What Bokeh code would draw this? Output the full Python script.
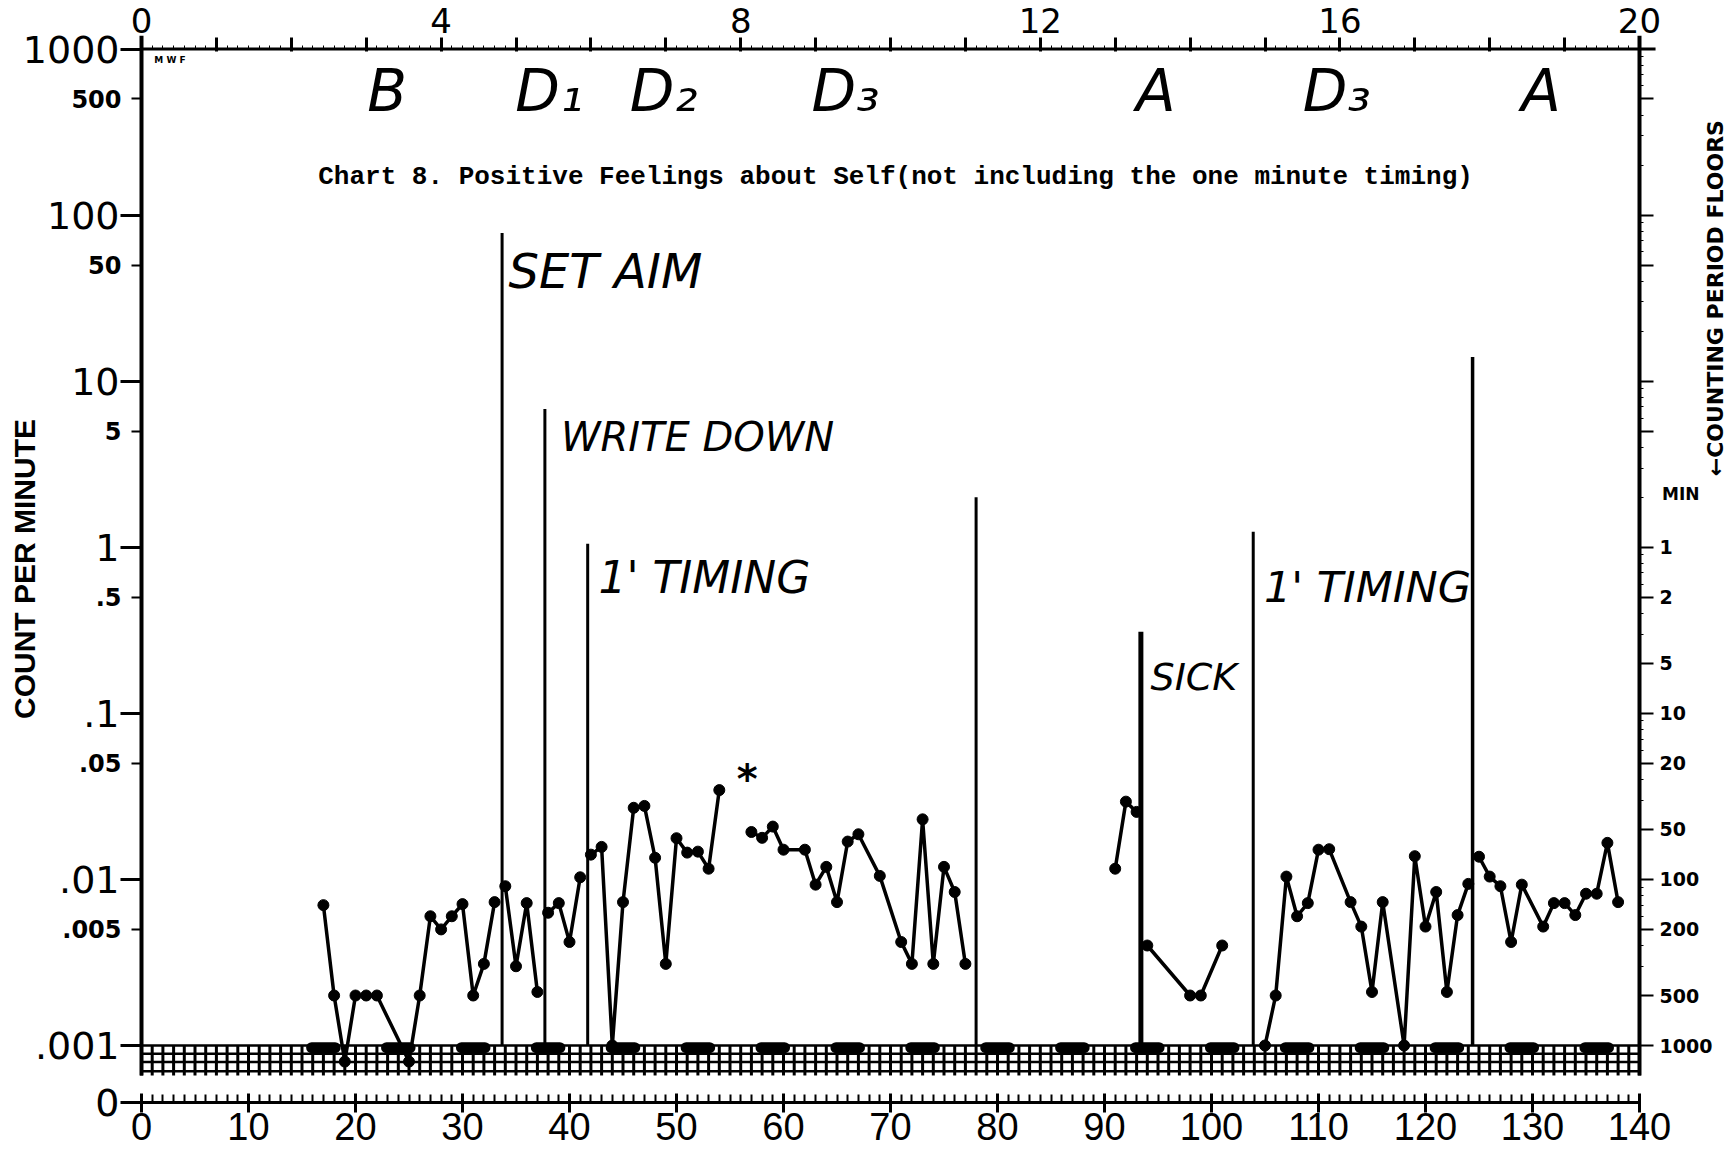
import math
from bokeh.plotting import figure
from bokeh.models import Range1d, LinearAxis, LogAxis, FixedTicker, Label
from bokeh.embed import file_html
from bokeh.resources import INLINE

# ---------------- data ----------------
days = [17, 18, 19, 20, 21, 22, 25, 26, 27, 28, 29, 30, 31, 32, 33,
        34, 35, 36, 37,
        38, 39, 40, 41,
        42, 43, 44, 45, 46, 47, 48, 49, 50, 51, 52, 53, 54,
        57, 58, 59, 60, 62, 63, 64, 65, 66, 67, 69, 71, 72, 73, 74, 75, 76, 77,
        91, 92, 93,
        94, 98, 99, 101,
        105, 106, 107, 108, 109, 110, 111, 113, 114, 115, 116, 118, 119, 120, 121, 122, 123, 124,
        125, 126, 127, 128, 129, 131, 132, 133, 134, 135, 136, 137, 138]
rate = [0.007, 0.002, 0.0008, 0.002, 0.002, 0.002, 0.0008, 0.002, 0.006, 0.005, 0.006, 0.0071, 0.002, 0.0031, 0.0073,
        0.0091, 0.003, 0.0072, 0.0021,
        0.0063, 0.0072, 0.0042, 0.0103,
        0.0141, 0.0157, 0.001, 0.0073, 0.027, 0.0277, 0.0135, 0.0031, 0.0177, 0.0145, 0.0147, 0.0116, 0.0345,
        0.0193, 0.0178, 0.0208, 0.0151, 0.0151, 0.0093, 0.0119, 0.0073, 0.0169, 0.0187, 0.0105, 0.0042, 0.0031,
        0.023, 0.0031, 0.0119, 0.0084, 0.0031,
        0.0116, 0.0294, 0.0255,
        0.004, 0.002, 0.002, 0.004,
        0.001, 0.002, 0.0104, 0.006, 0.0072, 0.0151, 0.0152, 0.0073, 0.0052, 0.0021, 0.0073, 0.001, 0.0138,
        0.0052, 0.0084, 0.0021, 0.0061, 0.0094,
        0.0137, 0.0104, 0.0091, 0.0042, 0.0093, 0.0052, 0.0072, 0.0072, 0.0061, 0.0082, 0.0082, 0.0166, 0.0073]
run_starts = [17, 34, 38, 42, 57, 91, 94, 105, 125]

phase_line_days = [33.7, 37.7, 41.7, 78.0, 93.4, 103.9, 124.4]
phase_line_tops = [78, 6.8, 1.05, 2.0, 0.31, 1.24, 14]

floor_mark_days = [17, 24, 31, 38, 45, 52, 59, 66, 73, 80, 87, 94, 101, 108, 115, 122, 129, 136]

left_decade_ticks = [1000, 100, 10, 1, 0.1, 0.01, 0.001]
left_decade_labels = ["1000", "100", "10", "1", ".1", ".01", ".001"]
left_five_ticks = [500, 50, 5, 0.5, 0.05, 0.005]
left_five_labels = ["500", "50", "5", ".5", ".05", ".005"]
zero_level = 0.000454
record_floor = 0.001
hatch_bottom = 0.00066

floor_ticks = [1, 0.5, 0.2, 0.1, 0.05, 0.02, 0.01, 0.005, 0.002, 0.001]
floor_labels = ["1", "2", "5", "10", "20", "50", "100", "200", "500", "1000"]
right_plain_ticks = [500, 100, 50, 10, 5]

week_ticks = list(range(0, 21))
week_labels = [0, 4, 8, 12, 16, 20]
day_label_ticks = list(range(0, 141, 10))

phase_names = ["B", "D₁", "D₂", "D₃", "A", "D₃", "A"]
phase_name_days = [22.95, 38.1, 48.8, 65.8, 94.8, 111.7, 130.8]

notes = ["SET AIM", "WRITE DOWN", "1' TIMING", "SICK", "1' TIMING"]
note_days = [34.3, 39.2, 42.7, 94.3, 104.9]
note_rates = [46, 4.6, 0.66, 0.166, 0.58]
note_sizes = [48, 40, 44, 38, 43]

title_text = "Chart 8.  Positive Feelings about Self(not including the one minute timing)"

# ---------------- layout (page pixels) ----------------
W, H = 1732, 1152
PX_PER_DAY = 10.7
DAY0_PX = 141.0
TOP_PX = 48.5          # position of the 1000 line
FLOOR_PX = 1045.0      # position of the .001 line
DEC_PX = (FLOOR_PX - TOP_PX) / 6.0

x_start = -DAY0_PX / PX_PER_DAY
x_end = (W - DAY0_PX) / PX_PER_DAY
y_top = 10 ** (3 + TOP_PX / DEC_PX)
y_bot = 10 ** (-3 - (H - FLOOR_PX) / DEC_PX)

p = figure(width=W, height=H, output_backend="svg", toolbar_location=None,
           x_range=Range1d(x_start, x_end), y_range=Range1d(y_bot, y_top), y_axis_type="log",
           min_border=0)
p.extra_x_ranges = {"weeks": Range1d(x_start / 7.0, x_end / 7.0)}
p.grid.visible = False
p.outline_line_color = None
p.background_fill_color = "white"
p.border_fill_color = "white"

# left axis (count per minute)
ya = p.yaxis[0]
ya.fixed_location = 0
ya.ticker = FixedTicker(ticks=left_decade_ticks + [zero_level], minor_ticks=left_five_ticks)
ov = dict(zip(left_decade_ticks, left_decade_labels))
ov[zero_level] = "0"
ya.major_label_overrides = ov
ya.major_label_text_font = "DejaVu Sans"
ya.major_label_text_font_size = "38px"
ya.major_label_text_color = "black"
ya.major_label_standoff = 1
ya.major_tick_out = 21
ya.major_tick_in = 0
ya.minor_tick_out = 10
ya.minor_tick_in = 0
ya.major_tick_line_width = 3
ya.minor_tick_line_width = 2
ya.axis_line_color = None

# bottom (zero / days) axis
xa = p.xaxis[0]
xa.fixed_location = zero_level
xa.ticker = FixedTicker(ticks=day_label_ticks, minor_ticks=list(range(141)))
xa.major_label_overrides = {t: "" for t in day_label_ticks}
xa.major_label_text_font_size = "1px"
xa.major_label_standoff = 0
xa.major_tick_in = 9
xa.major_tick_out = 10
xa.minor_tick_in = 8
xa.minor_tick_out = 0
xa.major_tick_line_width = 3
xa.minor_tick_line_width = 2
xa.axis_line_color = None

# top (weeks) axis
ta = LinearAxis(x_range_name="weeks", fixed_location=1000,
                ticker=FixedTicker(ticks=week_ticks, minor_ticks=[d / 7 for d in range(141)]))
ta.major_label_overrides = {t: "" for t in week_ticks}
ta.major_label_text_font_size = "1px"
ta.major_label_standoff = 0
ta.major_tick_out = 12
ta.major_tick_in = 2
ta.minor_tick_out = 4
ta.minor_tick_in = 0
ta.major_tick_line_width = 3
ta.minor_tick_line_width = 1
ta.axis_line_color = None
p.add_layout(ta, "above")

# right (counting period floors) axis
minor_log = [m * 10.0 ** k for k in range(-3, 3) for m in (2, 3, 4, 6, 7, 8, 9)]
ra = LogAxis(fixed_location=140,
             ticker=FixedTicker(ticks=right_plain_ticks + floor_ticks, minor_ticks=minor_log))
rov = {t: "" for t in right_plain_ticks}
rov.update(dict(zip(floor_ticks, floor_labels)))
ra.major_label_overrides = rov
ra.major_label_text_font = "DejaVu Sans"
ra.major_label_text_font_style = "bold"
ra.major_label_text_font_size = "19px"
ra.major_label_text_color = "black"
ra.major_label_standoff = 6
ra.major_tick_out = 14
ra.major_tick_in = 0
ra.minor_tick_out = 4
ra.minor_tick_in = 0
ra.major_tick_line_width = 2
ra.minor_tick_line_width = 1
ra.axis_line_color = None
p.add_layout(ra, "right")

# chart frame lines
p.segment(x0=[0, 140], y0=[hatch_bottom, hatch_bottom], x1=[0, 140], y1=[1200, 1200],
          line_width=4, line_color="black")
p.segment(x0=[0], y0=[1000], x1=[141.5], y1=[1000], line_width=3, line_color="black")
p.segment(x0=[0], y0=[zero_level], x1=[140], y1=[zero_level], line_width=3, line_color="black")

# record-floor hatched strip
grid_days = list(range(141))
p.segment(x0=grid_days, y0=[hatch_bottom] * len(grid_days), x1=grid_days,
          y1=[record_floor] * len(grid_days), line_width=3, line_color="black")
hatch_levels = [record_floor, 10 ** -3.05, 10 ** -3.10, 10 ** -3.155]
p.segment(x0=[0] * 4, y0=hatch_levels, x1=[140] * 4, y1=hatch_levels,
          line_width=2.5, line_color="black")
p.segment(x0=[d - 1.1 for d in floor_mark_days], y0=[0.00097] * len(floor_mark_days),
          x1=[d + 1.1 for d in floor_mark_days], y1=[0.00097] * len(floor_mark_days),
          line_width=11, line_color="black", line_cap="round")

# phase change lines
p.segment(x0=phase_line_days, y0=[record_floor] * len(phase_line_days),
          x1=phase_line_days, y1=phase_line_tops,
          line_width=[3, 3, 3, 3, 5, 3, 3.5], line_color="black")

# data
bounds = run_starts + [10 ** 6]
xs, ys = [], []
for a, b in zip(bounds[:-1], bounds[1:]):
    idx = [i for i, d in enumerate(days) if a <= d < b]
    xs.append([days[i] for i in idx])
    ys.append([rate[i] for i in idx])
p.multi_line(xs, ys, line_width=3.5, line_color="black")
p.scatter(days, rate, size=11, color="black", marker="circle")


def lab(text, x, y, size, font="DejaVu Sans", style="normal", align="left",
        baseline="middle", angle=0.0, xr="default"):
    p.add_layout(Label(x=x, y=y, text=text, text_font=font, text_font_size=f"{size}px",
                       text_font_style=style, text_align=align, text_baseline=baseline,
                       angle=angle, x_range_name=xr, text_color="black"))


# axis numerals drawn as labels
for w in week_labels:
    lab(str(w), w, 1475, 34, align="center", xr="weeks")
for d in day_label_ticks:
    lab(str(d), d, 0.000325, 38, font="Liberation Sans", align="center")
for t, s in zip(left_five_ticks, left_five_labels):
    lab(s, -1.87, t, 24, style="bold", align="right")

lab("M W F", 1.2, 860, 9, style="bold")
lab("MIN", 142.1, 2.08, 17, style="bold")
lab("COUNT PER MINUTE", -10.93, 0.74, 30, font="Liberation Sans", style="bold",
    align="center", angle=math.pi / 2)
lab("←COUNTING PERIOD FLOORS", 147.1, 31.6, 22, style="bold", align="center",
    angle=math.pi / 2)

# title
lab(title_text, 71.2, 169, 26, font="Liberation Mono", style="bold", align="center")

# phase names
for name, d in zip(phase_names, phase_name_days):
    lab(name, d, 560, 58, style="italic", align="center")

# handwritten notes
for t, d, r, s in zip(notes, note_days, note_rates, note_sizes):
    lab(t, d, r, s, style="italic")
lab("*", 56.6, 0.040, 40, style="bold", align="center")

open("out.html", "w").write(file_html(p, INLINE))
